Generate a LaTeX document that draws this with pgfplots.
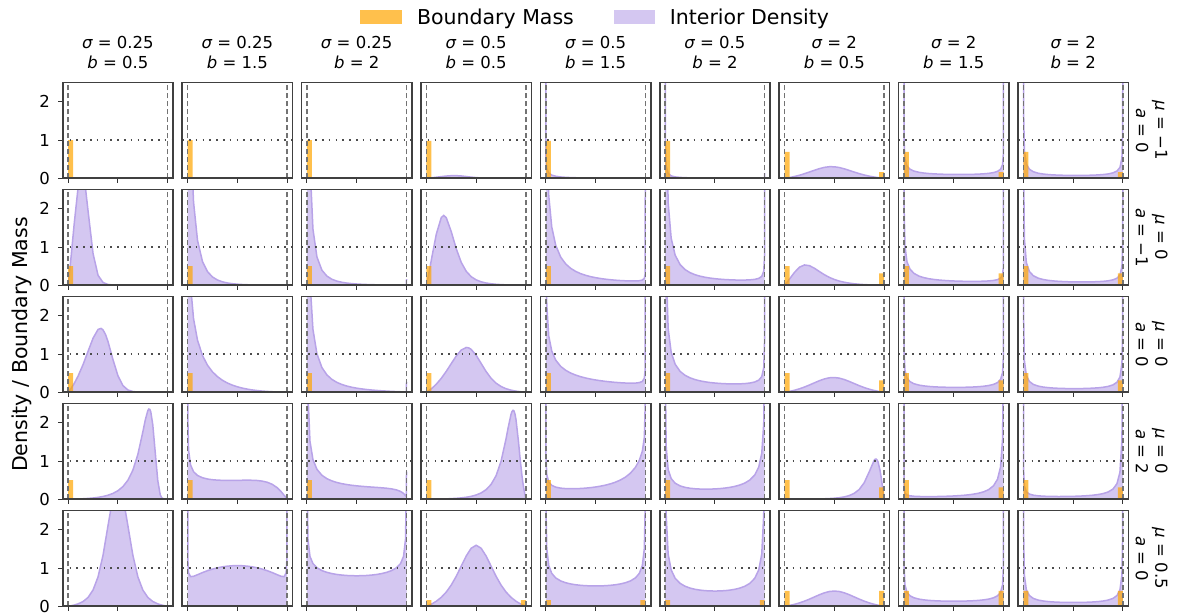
\documentclass[border=0pt]{standalone}
\usepackage{fontspec}
\setmainfont{DejaVu Sans}[ItalicFont={DejaVu Sans Oblique}]
\usepackage{pgfplots}
\pgfplotsset{compat=1.18}
\usepackage{pgfplotstable}
\definecolor{pfill}{RGB}{212,199,241}
\definecolor{pline}{RGB}{184,163,232}
\definecolor{bcol}{RGB}{255,165,0}
\newcommand{\fs}{\fontsize{16.5}{19.4}\selectfont}
\newcommand{\fl}{\fontsize{20.5}{24}\selectfont}
\tikzset{rowlab/.style={rotate=-90, align=center, font=\fs, anchor=center}}
\pgfplotsset{
 mypanel/.style={scale only axis, width=110.5pt, height=95.6pt, anchor=south west,
  xmin=-0.055, xmax=1.055, ymin=0, ymax=2.5,
  xtick={0,0.5,1}, xticklabels=\empty, ytick=\empty,
  xtick pos=lower, ytick pos=left,
  tick align=outside, major tick length=4.7pt,
  tick style={black!80, line width=1pt},
  axis line style={black!75, line width=1.6pt},
  axis on top, clip mode=individual,
  ticklabel style={font=\fs},
  yticklabel style={inner xsep=8pt},
  title style={font=\fs, align=center, anchor=south, inner sep=0pt, at={(0.5,1)}, yshift=8pt}},
 refdash/.style={black!55, line width=1.5pt, dash pattern=on 5pt off 3pt},
 refdot/.style={black!70, line width=1.6pt, dash pattern=on 1.6pt off 5.2pt}
}
\newcommand{\panel}[7]{%
\begin{axis}[mypanel, at={(62.7pt+#1*119.4pt,436.7pt-#2*107pt)}, #6]
\addplot[forget plot, draw=none, fill=pfill] table[x=x,y=y] {#3} \closedcycle;
\addplot[forget plot, pline, line width=1.5pt] table[x=x,y=y] {#3};
\addplot[forget plot, ybar, bar width=0.05, bar shift=0pt, draw=none, fill=bcol, fill opacity=0.7] coordinates {(0.025,#4) (0.975,#5)};
\addplot[forget plot, refdash] coordinates {(0,0) (0,2.5)};
\addplot[forget plot, refdash] coordinates {(1,0) (1,2.5)};
\addplot[forget plot, refdot] coordinates {(-0.055,1) (1.055,1)};
#7
\end{axis}}

% ---------------- data ----------------
\pgfplotstableread{
x y
0.000001 0
0.5 0
0.999999 0
}\zero
% row 1 (mu=-1, a=0)
\pgfplotstableread{
x y
0.000001 0
0.002 0.0004
0.01 0.0022
0.03 0.0071
0.06 0.0152
0.1 0.0275
0.15 0.0439
0.2 0.0587
0.25 0.0681
0.3 0.0691
0.35 0.0608
0.4 0.0463
0.45 0.0306
0.5 0.0177
0.55 0.0093
0.6 0.0046
0.65 0.0022
0.7 0.0011
0.75 0.0006
0.8 0.0002
0.9 0
0.999999 0
}\rAcD
\pgfplotstableread{
x y
0.000001 7.2
0.002 0.5215
0.01 0.2584
0.03 0.1389
0.06 0.0841
0.1 0.0536
0.15 0.0352
0.2 0.025
0.25 0.0186
0.3 0.0143
0.35 0.0112
0.4 0.009
0.45 0.0073
0.5 0.0059
0.6 0.004
0.7 0.0027
0.8 0.0019
0.9 0.0013
0.97 0.001
0.99 0.0011
0.998 0.0016
0.999999 0.018
}\rAcE
\pgfplotstableread{
x y
0.000001 20
0.002 0.9312
0.01 0.3089
0.03 0.1241
0.06 0.0634
0.1 0.0365
0.15 0.0227
0.2 0.0158
0.25 0.0118
0.3 0.0092
0.4 0.0062
0.5 0.0044
0.6 0.0034
0.7 0.0026
0.8 0.0021
0.9 0.0018
0.97 0.0019
0.99 0.0023
0.998 0.0039
0.999999 0.134
}\rAcF
\pgfplotstableread{
x y
0.000001 0
0.002 0.0007
0.01 0.0036
0.03 0.0115
0.06 0.0252
0.1 0.047
0.15 0.0803
0.2 0.12
0.25 0.1646
0.3 0.2108
0.35 0.2533
0.4 0.2859
0.45 0.3029
0.5 0.3011
0.55 0.2813
0.6 0.2475
0.65 0.2061
0.7 0.1627
0.75 0.1219
0.8 0.0862
0.85 0.0564
0.9 0.0326
0.94 0.0174
0.97 0.0079
0.99 0.0025
0.998 0.0005
0.999999 0
}\rAcG
\pgfplotstableread{
x y
0.000001 11.7
0.002 0.902
0.01 0.4998
0.03 0.3216
0.06 0.2382
0.1 0.1889
0.15 0.1567
0.2 0.1376
0.25 0.1249
0.3 0.116
0.35 0.1097
0.4 0.1052
0.45 0.1022
0.5 0.1004
0.55 0.0997
0.6 0.1001
0.65 0.1017
0.7 0.1047
0.75 0.1095
0.8 0.117
0.85 0.1289
0.9 0.1495
0.94 0.1815
0.97 0.2364
0.99 0.3552
0.998 0.6272
0.999999 8.07
}\rAcH
\pgfplotstableread{
x y
0.000001 20
0.002 1.7888
0.01 0.7204
0.03 0.3696
0.06 0.2377
0.1 0.1709
0.15 0.1321
0.2 0.1109
0.25 0.0978
0.3 0.089
0.35 0.0831
0.4 0.0791
0.45 0.0766
0.5 0.0753
0.55 0.0751
0.6 0.0761
0.65 0.0784
0.7 0.0823
0.75 0.0884
0.8 0.0979
0.85 0.1133
0.9 0.1417
0.94 0.1901
0.97 0.2841
0.99 0.5302
0.998 1.2696
0.999999 20
}\rAcI
% row 2 (mu=0, a=-1)
\pgfplotstableread{
x y
0.000001 0
0.002 0.0475
0.01 0.2427
0.03 0.764
0.06 1.5945
0.1 2.5689
0.125 2.8961
0.15 2.8771
0.175 2.5156
0.2 1.94
0.25 0.829
0.3 0.2617
0.35 0.0739
0.4 0.0216
0.45 0.0071
0.5 0.0027
0.55 0.001
0.6 0.0003
0.7 0
0.999999 0
}\rBcA
\pgfplotstableread{
x y
0.000001 20
0.002 15.412
0.01 7.7717
0.03 4.0136
0.06 2.1758
0.1 1.1705
0.15 0.6194
0.2 0.3574
0.25 0.2183
0.3 0.1388
0.35 0.091
0.4 0.0611
0.45 0.0418
0.5 0.029
0.55 0.0204
0.6 0.0144
0.65 0.0103
0.7 0.0073
0.75 0.0053
0.8 0.0037
0.85 0.0027
0.9 0.0019
0.94 0.0014
0.97 0.0012
0.99 0.0012
0.998 0.0016
0.999999 0.018
}\rBcB
\pgfplotstableread{
x y
0.000001 20
0.002 20
0.01 8.361
0.03 3.1892
0.06 1.4703
0.1 0.7417
0.15 0.3962
0.2 0.2412
0.25 0.1586
0.3 0.1099
0.35 0.079
0.4 0.0584
0.45 0.0441
0.5 0.0338
0.55 0.0262
0.6 0.0206
0.65 0.0162
0.7 0.0128
0.75 0.0102
0.8 0.008
0.85 0.0063
0.9 0.0049
0.94 0.004
0.97 0.0035
0.99 0.0036
0.998 0.0052
0.999999 0.16
}\rBcC
\pgfplotstableread{
x y
0.000001 0
0.002 0.0237
0.01 0.1213
0.03 0.3821
0.06 0.8014
0.1 1.3395
0.15 1.7747
0.175 1.8274
0.2 1.7654
0.25 1.4033
0.3 0.9565
0.35 0.6007
0.4 0.3673
0.45 0.226
0.5 0.142
0.55 0.0914
0.6 0.0601
0.65 0.04
0.7 0.0268
0.75 0.0178
0.8 0.0116
0.85 0.0072
0.9 0.004
0.94 0.0021
0.97 0.001
0.99 0.0003
0.998 0.0001
0.999999 0
}\rBcD
\pgfplotstableread{
x y
0.000001 20
0.002 7.7478
0.01 4.0515
0.03 2.3445
0.06 1.5251
0.1 1.0434
0.15 0.7363
0.2 0.559
0.25 0.4438
0.3 0.3636
0.35 0.305
0.4 0.2607
0.45 0.2264
0.5 0.1992
0.55 0.1773
0.6 0.1597
0.65 0.1453
0.7 0.1336
0.75 0.1244
0.8 0.1176
0.85 0.1134
0.9 0.1134
0.94 0.1197
0.97 0.1369
0.99 0.1826
0.998 0.2991
0.999999 3.7
}\rBcE
\pgfplotstableread{
x y
0.000001 20
0.002 12.674
0.01 4.7194
0.03 2.1593
0.06 1.2352
0.1 0.7889
0.15 0.5412
0.2 0.4105
0.25 0.3304
0.3 0.2767
0.35 0.2386
0.4 0.2104
0.45 0.1892
0.5 0.1728
0.55 0.1602
0.6 0.1505
0.65 0.1434
0.7 0.1387
0.75 0.1364
0.8 0.1372
0.85 0.1422
0.9 0.1554
0.94 0.1812
0.97 0.2333
0.99 0.3693
0.998 0.7728
0.999999 20
}\rBcF
\pgfplotstableread{
x y
0.000001 0
0.002 0.0059
0.01 0.0303
0.03 0.0955
0.06 0.2007
0.1 0.3393
0.15 0.4738
0.2 0.5322
0.25 0.5136
0.3 0.4452
0.35 0.359
0.4 0.2764
0.45 0.2068
0.5 0.1521
0.55 0.1105
0.6 0.0796
0.65 0.0568
0.7 0.0399
0.75 0.0275
0.8 0.0183
0.85 0.0116
0.9 0.0065
0.94 0.0034
0.97 0.0016
0.99 0.0005
0.998 0.0001
0.999999 0
}\rBcG
\pgfplotstableread{
x y
0.000001 20
0.002 1.9402
0.01 1.0262
0.03 0.6153
0.06 0.4237
0.1 0.3125
0.15 0.2413
0.2 0.1996
0.25 0.172
0.3 0.1526
0.35 0.1382
0.4 0.1274
0.45 0.1192
0.5 0.1129
0.55 0.1083
0.6 0.1051
0.65 0.1032
0.7 0.1028
0.75 0.1039
0.8 0.1072
0.85 0.1138
0.9 0.1268
0.94 0.1484
0.97 0.187
0.99 0.2728
0.998 0.473
0.999999 6.04
}\rBcH
\pgfplotstableread{
x y
0.000001 20
0.002 3.1966
0.01 1.2254
0.03 0.5935
0.06 0.3632
0.1 0.2497
0.15 0.1852
0.2 0.1505
0.25 0.129
0.3 0.1146
0.35 0.1046
0.4 0.0975
0.45 0.0926
0.5 0.0893
0.55 0.0875
0.6 0.0871
0.65 0.088
0.7 0.0906
0.75 0.0954
0.8 0.1034
0.85 0.1169
0.9 0.1422
0.94 0.1855
0.97 0.2696
0.99 0.4883
0.998 1.1422
0.999999 20
}\rBcI
% row 3 (mu=0, a=0)
\pgfplotstableread{
x y
0.000001 0
0.002 0.0064
0.01 0.0329
0.03 0.1047
0.06 0.2287
0.1 0.4267
0.15 0.7278
0.2 1.0742
0.25 1.4142
0.3 1.6433
0.33 1.672
0.35 1.6318
0.375 1.5131
0.4 1.3282
0.45 0.8558
0.5 0.4319
0.55 0.1755
0.6 0.0612
0.65 0.02
0.7 0.0066
0.75 0.0024
0.8 0.0009
0.9 0
0.999999 0
}\rCcA
\pgfplotstableread{
x y
0.000001 20
0.002 8.19
0.01 4.5106
0.03 2.7988
0.06 1.9247
0.1 1.3596
0.15 0.9606
0.2 0.709
0.25 0.5353
0.3 0.4093
0.35 0.3151
0.4 0.2431
0.45 0.1875
0.5 0.144
0.55 0.1099
0.6 0.083
0.65 0.0619
0.7 0.0453
0.75 0.0324
0.8 0.0224
0.85 0.0148
0.9 0.0092
0.94 0.0059
0.97 0.0039
0.99 0.0031
0.998 0.0035
0.999999 0.036
}\rCcB
\pgfplotstableread{
x y
0.000001 20
0.002 16.155
0.01 6.2565
0.03 2.916
0.06 1.6451
0.1 1.0082
0.15 0.6473
0.2 0.4556
0.25 0.3381
0.3 0.2597
0.35 0.2043
0.4 0.1634
0.45 0.1323
0.5 0.108
0.55 0.0886
0.6 0.0728
0.65 0.0598
0.7 0.0489
0.75 0.0396
0.8 0.0317
0.85 0.0247
0.9 0.0185
0.94 0.0139
0.97 0.0107
0.99 0.0091
0.998 0.0108
0.999999 0.27
}\rCcC
\pgfplotstableread{
x y
0.000001 0
0.002 0.0032
0.01 0.0164
0.03 0.0524
0.06 0.1143
0.1 0.2135
0.15 0.3659
0.2 0.5484
0.25 0.7508
0.3 0.9493
0.35 1.1048
0.4 1.172
0.425 1.1624
0.45 1.1228
0.5 0.9679
0.55 0.7556
0.6 0.5431
0.65 0.3674
0.7 0.239
0.75 0.1516
0.8 0.0939
0.85 0.0559
0.9 0.0303
0.94 0.0157
0.97 0.0071
0.99 0.0022
0.998 0.0004
0.999999 0
}\rCcD
\pgfplotstableread{
x y
0.000001 20
0.002 4.1023
0.01 2.2824
0.03 1.4686
0.06 1.0784
0.1 0.8399
0.15 0.6773
0.2 0.5754
0.25 0.5038
0.3 0.4501
0.35 0.408
0.4 0.3741
0.45 0.3461
0.5 0.3226
0.55 0.3028
0.6 0.2859
0.65 0.2716
0.7 0.2596
0.75 0.2499
0.8 0.2426
0.85 0.2387
0.9 0.2409
0.94 0.2532
0.97 0.2846
0.99 0.3693
0.998 0.5911
0.999999 7.2
}\rCcE
\pgfplotstableread{
x y
0.000001 20
0.002 8.167
0.01 3.2888
0.03 1.6674
0.06 1.0499
0.1 0.7335
0.15 0.5471
0.2 0.4437
0.25 0.3777
0.3 0.3321
0.35 0.2992
0.4 0.2746
0.45 0.256
0.5 0.242
0.55 0.2316
0.6 0.2244
0.65 0.2201
0.7 0.2188
0.75 0.221
0.8 0.2278
0.85 0.2418
0.9 0.2698
0.94 0.3184
0.97 0.4104
0.99 0.6414
0.998 1.312
0.999999 20
}\rCcF
\pgfplotstableread{
x y
0.000001 0
0.002 0.0008
0.01 0.0041
0.03 0.0131
0.06 0.0286
0.1 0.0534
0.15 0.0916
0.2 0.138
0.25 0.1913
0.3 0.2483
0.35 0.3036
0.4 0.3499
0.45 0.3795
0.5 0.3867
0.55 0.3702
0.6 0.3335
0.65 0.2834
0.7 0.2278
0.75 0.1731
0.8 0.1236
0.85 0.0815
0.9 0.0473
0.94 0.0253
0.97 0.0116
0.99 0.0036
0.998 0.0007
0.999999 0
}\rCcG
\pgfplotstableread{
x y
0.000001 13.3
0.002 1.026
0.01 0.5727
0.03 0.3727
0.06 0.2794
0.1 0.2243
0.15 0.1885
0.2 0.1673
0.25 0.1535
0.3 0.1439
0.35 0.1373
0.4 0.1329
0.45 0.1301
0.5 0.1289
0.55 0.1291
0.6 0.1307
0.65 0.1339
0.7 0.1391
0.75 0.1469
0.8 0.1586
0.85 0.1766
0.9 0.2075
0.94 0.2552
0.97 0.3364
0.99 0.5111
0.998 0.909
0.999999 11.7
}\rCcH
\pgfplotstableread{
x y
0.000001 20
0.002 2.0488
0.01 0.8352
0.03 0.4347
0.06 0.2833
0.1 0.2062
0.15 0.1612
0.2 0.1366
0.25 0.1214
0.3 0.1114
0.35 0.1047
0.4 0.1003
0.45 0.0977
0.5 0.0967
0.55 0.0971
0.6 0.099
0.65 0.1027
0.7 0.1085
0.75 0.1174
0.8 0.131
0.85 0.1532
0.9 0.1937
0.94 0.2629
0.97 0.3982
0.99 0.754
0.998 1.8275
0.999999 20
}\rCcI
% row 4 (mu=0, a=2)
\pgfplotstableread{
x y
0.000001 0
0.002 0.0001
0.01 0.0006
0.03 0.0019
0.06 0.0042
0.1 0.008
0.15 0.0143
0.2 0.0228
0.25 0.0345
0.3 0.0508
0.35 0.0737
0.4 0.1065
0.45 0.1541
0.5 0.2249
0.55 0.3324
0.6 0.4992
0.65 0.7622
0.7 1.1733
0.75 1.7618
0.775 2.0801
0.8 2.3181
0.81 2.36
0.82 2.352
0.83 2.2855
0.85 1.9487
0.875 1.2147
0.9 0.4911
0.925 0.1175
0.94 0.0398
0.96 0.0083
0.97 0.0038
0.99 0.0006
0.998 0
0.999999 0
}\rDcA
\pgfplotstableread{
x y
0.000001 20
0.002 2.2143
0.01 1.29
0.03 0.8974
0.06 0.7218
0.1 0.6232
0.15 0.563
0.2 0.5306
0.25 0.5119
0.3 0.5012
0.35 0.4958
0.4 0.4938
0.45 0.4942
0.5 0.496
0.55 0.4981
0.6 0.4992
0.65 0.4978
0.7 0.4912
0.75 0.4758
0.8 0.4459
0.85 0.3925
0.9 0.3037
0.94 0.1993
0.97 0.1044
0.99 0.0428
0.998 0.0232
0.999999 0.135
}\rDcB
\pgfplotstableread{
x y
0.000001 20
0.002 6.3585
0.01 2.7431
0.03 1.5193
0.06 1.0389
0.1 0.7841
0.15 0.6286
0.2 0.5395
0.25 0.481
0.3 0.4397
0.35 0.409
0.4 0.3854
0.45 0.3668
0.5 0.3518
0.55 0.3395
0.6 0.329
0.65 0.3197
0.7 0.3107
0.75 0.3011
0.8 0.2893
0.85 0.2725
0.9 0.2446
0.94 0.2052
0.97 0.1542
0.99 0.0977
0.998 0.067
0.999999 0.725
}\rDcC
\pgfplotstableread{
x y
0.000001 0
0.002 0.0001
0.01 0.0003
0.03 0.001
0.06 0.0021
0.1 0.004
0.15 0.0071
0.2 0.0114
0.25 0.0173
0.3 0.0254
0.35 0.0369
0.4 0.0533
0.45 0.0771
0.5 0.1127
0.55 0.1669
0.6 0.252
0.65 0.3893
0.7 0.6163
0.75 0.9934
0.8 1.5774
0.82 1.8539
0.85 2.2184
0.86 2.2934
0.87 2.3271
0.875 2.3248
0.88 2.3086
0.89 2.2301
0.9 2.089
0.925 1.5136
0.94 1.1047
0.96 0.6197
0.97 0.4249
0.98 0.2616
0.99 0.1229
0.998 0.0237
0.999999 0
}\rDcD
\pgfplotstableread{
x y
0.000001 14
0.002 1.1073
0.01 0.6456
0.03 0.4504
0.06 0.3644
0.1 0.3178
0.15 0.2916
0.2 0.28
0.25 0.2761
0.3 0.2775
0.35 0.283
0.4 0.2922
0.45 0.3051
0.5 0.322
0.55 0.3435
0.6 0.3707
0.65 0.4049
0.7 0.4485
0.75 0.5049
0.8 0.5798
0.85 0.6829
0.9 0.8339
0.94 1.0204
0.97 1.2546
0.99 1.6233
0.998 2.4134
0.999999 20
}\rDcE
\pgfplotstableread{
x y
0.000001 20
0.002 3.1843
0.01 1.3821
0.03 0.7767
0.06 0.5425
0.1 0.4211
0.15 0.35
0.2 0.3118
0.25 0.2891
0.3 0.2756
0.35 0.2682
0.4 0.2654
0.45 0.2666
0.5 0.2715
0.55 0.2803
0.6 0.2935
0.65 0.3121
0.7 0.3378
0.75 0.3736
0.8 0.4251
0.85 0.5037
0.9 0.6375
0.94 0.8454
0.97 1.2012
0.99 1.9778
0.998 3.9438
0.999999 20
}\rDcF
\pgfplotstableread{
x y
0.000001 0
0.002 0
0.01 0.0001
0.03 0.0002
0.06 0.0005
0.1 0.001
0.15 0.0018
0.2 0.0028
0.25 0.0043
0.3 0.0063
0.35 0.0092
0.4 0.0133
0.45 0.0193
0.5 0.0282
0.55 0.0418
0.6 0.0632
0.65 0.098
0.7 0.1565
0.75 0.2578
0.8 0.4342
0.85 0.7172
0.9 1.0197
0.91 1.0482
0.92 1.053
0.93 1.028
0.94 0.9684
0.96 0.7404
0.97 0.5776
0.98 0.3927
0.99 0.1962
0.998 0.0386
0.999999 0
}\rDcG
\pgfplotstableread{
x y
0.000001 3.51
0.002 0.2768
0.01 0.1614
0.03 0.1128
0.06 0.0914
0.1 0.0799
0.15 0.0737
0.2 0.0712
0.25 0.0707
0.3 0.0716
0.35 0.0737
0.4 0.077
0.45 0.0815
0.5 0.0873
0.55 0.095
0.6 0.1049
0.65 0.1179
0.7 0.1354
0.75 0.1597
0.8 0.1954
0.85 0.2521
0.9 0.3554
0.94 0.5278
0.97 0.8471
0.99 1.5699
0.998 3.1975
0.999999 20
}\rDcH
\pgfplotstableread{
x y
0.000001 20
0.002 0.7965
0.01 0.3463
0.03 0.1955
0.06 0.1375
0.1 0.1077
0.15 0.0905
0.2 0.0816
0.25 0.0766
0.3 0.0739
0.35 0.073
0.4 0.0733
0.45 0.0749
0.5 0.0777
0.55 0.082
0.6 0.0879
0.65 0.0962
0.7 0.1076
0.75 0.1241
0.8 0.1489
0.85 0.1895
0.9 0.267
0.94 0.4085
0.97 0.7083
0.99 1.5719
0.998 4.3755
0.999999 20
}\rDcI
% row 5 (mu=0.5, a=0)
\pgfplotstableread{
x y
0.000001 0
0.002 0.0009
0.01 0.0045
0.03 0.0143
0.06 0.032
0.1 0.0637
0.15 0.1254
0.2 0.2327
0.25 0.4259
0.3 0.7695
0.35 1.3335
0.4 2.1072
0.45 2.8637
0.5 3.1915
0.55 2.8637
0.6 2.1072
0.65 1.3335
0.7 0.7695
0.75 0.4259
0.8 0.2327
0.85 0.1254
0.9 0.0637
0.94 0.032
0.97 0.0143
0.99 0.0045
0.998 0.0009
0.999999 0
}\rEcA
\pgfplotstableread{
x y
0.000001 14.4
0.002 1.2569
0.01 0.8726
0.03 0.7763
0.06 0.7839
0.1 0.8262
0.15 0.882
0.2 0.9314
0.25 0.9728
0.3 1.0061
0.35 1.0316
0.4 1.0496
0.45 1.0603
0.5 1.0639
0.55 1.0603
0.6 1.0496
0.65 1.0316
0.7 1.0061
0.75 0.9728
0.8 0.9314
0.85 0.882
0.9 0.8262
0.94 0.7839
0.97 0.7763
0.99 0.8726
0.998 1.2569
0.999999 14.4
}\rEcB
\pgfplotstableread{
x y
0.000001 20
0.002 3.0807
0.01 1.7582
0.03 1.3056
0.06 1.1177
0.1 1.0082
0.15 0.9339
0.2 0.8874
0.25 0.8554
0.3 0.8327
0.35 0.8167
0.4 0.806
0.45 0.7999
0.5 0.7979
0.55 0.7999
0.6 0.806
0.65 0.8167
0.7 0.8327
0.75 0.8554
0.8 0.8874
0.85 0.9339
0.9 1.0082
0.94 1.1177
0.97 1.3056
0.99 1.7582
0.998 3.0807
0.999999 20
}\rEcC
\pgfplotstableread{
x y
0.000001 0
0.002 0.0019
0.01 0.01
0.03 0.0318
0.06 0.0699
0.1 0.1327
0.15 0.2358
0.2 0.3741
0.25 0.5562
0.3 0.7853
0.35 1.0504
0.4 1.3147
0.45 1.5186
0.5 1.5958
0.55 1.5186
0.6 1.3147
0.65 1.0504
0.7 0.7853
0.75 0.5562
0.8 0.3741
0.85 0.2358
0.9 0.1327
0.94 0.0699
0.97 0.0318
0.99 0.01
0.998 0.0019
0.999999 0
}\rEcD
\pgfplotstableread{
x y
0.000001 20
0.002 2.5673
0.01 1.5137
0.03 1.0658
0.06 0.8615
0.1 0.7416
0.15 0.663
0.2 0.616
0.25 0.5849
0.3 0.5636
0.35 0.5488
0.4 0.5392
0.45 0.5337
0.5 0.5319
0.55 0.5337
0.6 0.5392
0.65 0.5488
0.7 0.5636
0.75 0.5849
0.8 0.616
0.85 0.663
0.9 0.7416
0.94 0.8615
0.97 1.0658
0.99 1.5137
0.998 2.5673
0.999999 20
}\rEcE
\pgfplotstableread{
x y
0.000001 20
0.002 5.3968
0.01 2.3945
0.03 1.364
0.06 0.9532
0.1 0.7335
0.15 0.5997
0.2 0.5241
0.25 0.4763
0.3 0.4445
0.35 0.4231
0.4 0.4092
0.45 0.4015
0.5 0.3989
0.55 0.4015
0.6 0.4092
0.65 0.4231
0.7 0.4445
0.75 0.4763
0.8 0.5241
0.85 0.5997
0.9 0.7335
0.94 0.9532
0.97 1.364
0.99 2.3945
0.998 5.3968
0.999999 20
}\rEcF
\pgfplotstableread{
x y
0.000001 0
0.002 0.0008
0.01 0.004
0.03 0.0127
0.06 0.0277
0.1 0.0518
0.15 0.0892
0.2 0.1347
0.25 0.1877
0.3 0.2454
0.35 0.3027
0.4 0.3525
0.45 0.3867
0.5 0.3989
0.55 0.3867
0.6 0.3525
0.65 0.3027
0.7 0.2454
0.75 0.1877
0.8 0.1347
0.85 0.0892
0.9 0.0518
0.94 0.0277
0.97 0.0127
0.99 0.004
0.998 0.0008
0.999999 0
}\rEcG
\pgfplotstableread{
x y
0.000001 12.9
0.002 0.9964
0.01 0.5582
0.03 0.3653
0.06 0.2755
0.1 0.2226
0.15 0.1883
0.2 0.1681
0.25 0.1549
0.3 0.146
0.35 0.1399
0.4 0.136
0.45 0.1337
0.5 0.133
0.55 0.1337
0.6 0.136
0.65 0.1399
0.7 0.146
0.75 0.1549
0.8 0.1681
0.85 0.1883
0.9 0.2226
0.94 0.2755
0.97 0.3653
0.99 0.5582
0.998 0.9964
0.999999 12.9
}\rEcH
\pgfplotstableread{
x y
0.000001 20
0.002 1.9964
0.01 0.8188
0.03 0.4293
0.06 0.2816
0.1 0.2062
0.15 0.1621
0.2 0.138
0.25 0.1232
0.3 0.1134
0.35 0.1069
0.4 0.1028
0.45 0.1005
0.5 0.0997
0.55 0.1005
0.6 0.1028
0.65 0.1069
0.7 0.1134
0.75 0.1232
0.8 0.138
0.85 0.1621
0.9 0.2062
0.94 0.2816
0.97 0.4293
0.99 0.8188
0.998 1.9964
0.999999 20
}\rEcI

\begin{document}
\begin{tikzpicture}
\path[use as bounding box] (0pt,0pt) rectangle (1178pt,615pt);
% ---- row 1 ----
\panel{0}{0}{\zero}{1.0}{0}{ytick={0,1,2}, yticklabels={0,1,2}, title={{\itshape σ} = 0.25\\{\itshape b} = 0.5}}{}
\panel{1}{0}{\zero}{1.0}{0}{title={{\itshape σ} = 0.25\\{\itshape b} = 1.5}}{}
\panel{2}{0}{\zero}{1.0}{0}{title={{\itshape σ} = 0.25\\{\itshape b} = 2}}{}
\panel{3}{0}{\rAcD}{0.9772}{0}{title={{\itshape σ} = 0.5\\{\itshape b} = 0.5}}{}
\panel{4}{0}{\rAcE}{0.9772}{0}{title={{\itshape σ} = 0.5\\{\itshape b} = 1.5},
  legend style={at={(0.5,1.687)}, anchor=center, draw=none, fill=none, font=\fl, legend columns=2,
   /tikz/every odd column/.append style={column sep=13pt},
   /tikz/every even column/.append style={column sep=38pt}}, legend cell align=left}{%
  \addlegendimage{legend image code/.code={\fill[bcol, fill opacity=0.7, draw=none] (0pt,-7pt) rectangle (42pt,7pt);}}
  \addlegendentry{Boundary Mass}
  \addlegendimage{legend image code/.code={\fill[pfill, draw=none] (0pt,-7pt) rectangle (41pt,7pt);}}
  \addlegendentry{Interior Density}}
\panel{5}{0}{\rAcF}{0.9772}{0}{title={{\itshape σ} = 0.5\\{\itshape b} = 2}}{}
\panel{6}{0}{\rAcG}{0.6915}{0.1587}{title={{\itshape σ} = 2\\{\itshape b} = 0.5}}{}
\panel{7}{0}{\rAcH}{0.6915}{0.1587}{title={{\itshape σ} = 2\\{\itshape b} = 1.5}}{}
\panel{8}{0}{\rAcI}{0.6915}{0.1587}{title={{\itshape σ} = 2\\{\itshape b} = 2}}{%
  \node[rowlab] at (axis description cs:1.21,0.5) {{\itshape μ} = −1\\{\itshape a} = 0};}
% ---- row 2 ----
\panel{0}{1}{\rBcA}{0.5}{0}{ytick={0,1,2}, yticklabels={0,1,2}}{}
\panel{1}{1}{\rBcB}{0.5}{0}{}{}
\panel{2}{1}{\rBcC}{0.5}{0}{}{}
\panel{3}{1}{\rBcD}{0.5}{0.0228}{}{}
\panel{4}{1}{\rBcE}{0.5}{0.0228}{}{}
\panel{5}{1}{\rBcF}{0.5}{0.0228}{}{}
\panel{6}{1}{\rBcG}{0.5}{0.3085}{}{}
\panel{7}{1}{\rBcH}{0.5}{0.3085}{}{}
\panel{8}{1}{\rBcI}{0.5}{0.3085}{}{%
  \node[rowlab] at (axis description cs:1.21,0.5) {{\itshape μ} = 0\\{\itshape a} = −1};}
% ---- row 3 ----
\panel{0}{2}{\rCcA}{0.5}{0}{ytick={0,1,2}, yticklabels={0,1,2}}{%
  \node[rotate=90, font=\fl, anchor=center] at (axis description cs:-0.37,0.5) {Density / Boundary Mass};}
\panel{1}{2}{\rCcB}{0.5}{0}{}{}
\panel{2}{2}{\rCcC}{0.5}{0}{}{}
\panel{3}{2}{\rCcD}{0.5}{0.0228}{}{}
\panel{4}{2}{\rCcE}{0.5}{0.0228}{}{}
\panel{5}{2}{\rCcF}{0.5}{0.0228}{}{}
\panel{6}{2}{\rCcG}{0.5}{0.3085}{}{}
\panel{7}{2}{\rCcH}{0.5}{0.3085}{}{}
\panel{8}{2}{\rCcI}{0.5}{0.3085}{}{%
  \node[rowlab] at (axis description cs:1.21,0.5) {{\itshape μ} = 0\\{\itshape a} = 0};}
% ---- row 4 ----
\panel{0}{3}{\rDcA}{0.5}{0}{ytick={0,1,2}, yticklabels={0,1,2}}{}
\panel{1}{3}{\rDcB}{0.5}{0}{}{}
\panel{2}{3}{\rDcC}{0.5}{0}{}{}
\panel{3}{3}{\rDcD}{0.5}{0.0228}{}{}
\panel{4}{3}{\rDcE}{0.5}{0.0228}{}{}
\panel{5}{3}{\rDcF}{0.5}{0.0228}{}{}
\panel{6}{3}{\rDcG}{0.5}{0.3085}{}{}
\panel{7}{3}{\rDcH}{0.5}{0.3085}{}{}
\panel{8}{3}{\rDcI}{0.5}{0.3085}{}{%
  \node[rowlab] at (axis description cs:1.21,0.5) {{\itshape μ} = 0\\{\itshape a} = 2};}
% ---- row 5 ----
\panel{0}{4}{\rEcA}{0.0228}{0.0228}{ytick={0,1,2}, yticklabels={0,1,2}}{}
\panel{1}{4}{\rEcB}{0.0228}{0.0228}{}{}
\panel{2}{4}{\rEcC}{0.0228}{0.0228}{}{}
\panel{3}{4}{\rEcD}{0.1587}{0.1587}{}{}
\panel{4}{4}{\rEcE}{0.1587}{0.1587}{}{}
\panel{5}{4}{\rEcF}{0.1587}{0.1587}{}{}
\panel{6}{4}{\rEcG}{0.4013}{0.4013}{}{}
\panel{7}{4}{\rEcH}{0.4013}{0.4013}{}{}
\panel{8}{4}{\rEcI}{0.4013}{0.4013}{}{%
  \node[rowlab] at (axis description cs:1.21,0.5) {{\itshape μ} = 0.5\\{\itshape a} = 0};}
\end{tikzpicture}
\end{document}
